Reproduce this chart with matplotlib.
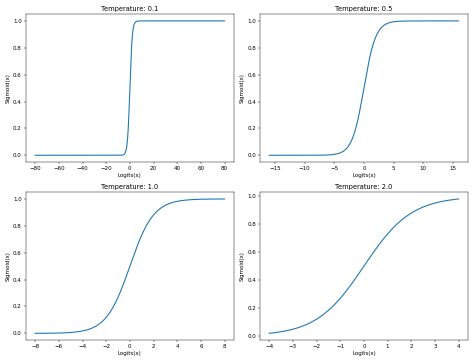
import numpy as np
import matplotlib
matplotlib.use('Agg')
import matplotlib.pyplot as plt

# temperatures shown in the four panels, and the logit half-range for each
temperatures = [0.1, 0.5, 1.0, 2.0]
base_range = 8.0
n_points = 1000


def sigmoid(x):
    return 1.0 / (1.0 + np.exp(-x))


def main():
    fig, axes = plt.subplots(2, 2, figsize=(12, 9.165), dpi=39.5)
    for ax, t in zip(axes.flat, temperatures):
        x = np.linspace(-base_range, base_range, n_points) / t
        ax.plot(x, sigmoid(x), linewidth=2)
        ax.set_title('Temperature: {}'.format(t))
        ax.set_xlabel('Logits(x)')
        ax.set_ylabel('Sigmoid(x)')
    plt.tight_layout()
    plt.savefig('out.png', dpi=39.5)


if __name__ == '__main__':
    main()
